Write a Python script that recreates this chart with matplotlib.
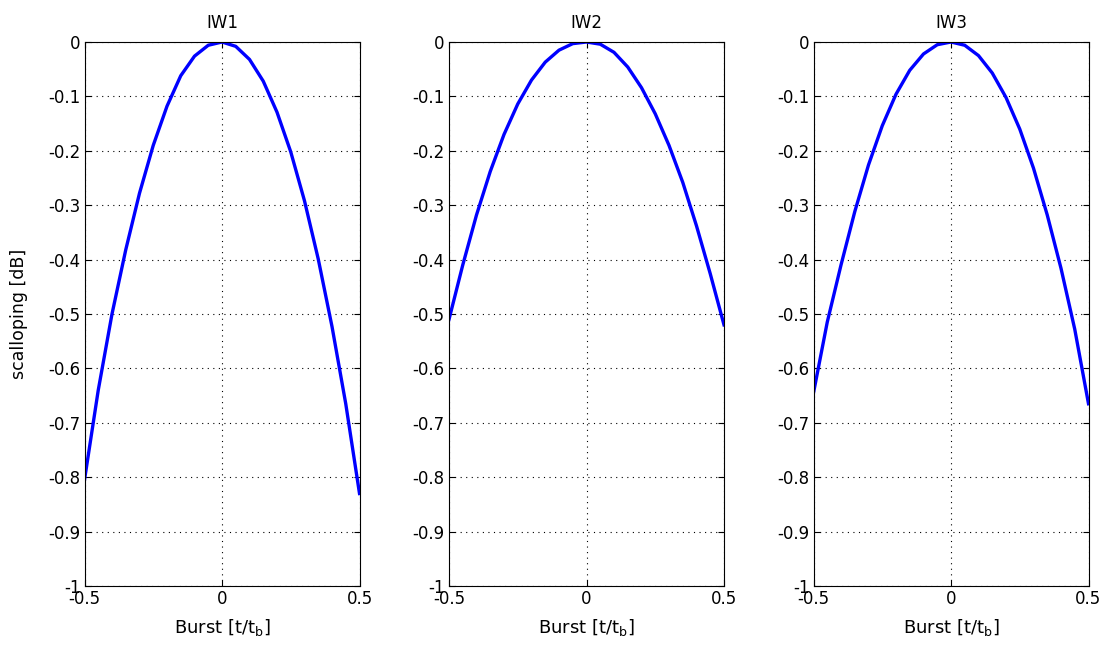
import numpy as np
import matplotlib
matplotlib.use("Agg")
import matplotlib.pyplot as plt

plt.rcParams['font.family'] = ['DejaVu Sans']
plt.rcParams['axes.unicode_minus'] = False

# values
burst = [-0.5, -0.45, -0.4, -0.35, -0.3, -0.25, -0.2, -0.15, -0.1, -0.05, 0.0,
         0.05, 0.1, 0.15, 0.2, 0.25, 0.3, 0.35, 0.4, 0.45, 0.5]
iw1 = [-0.805, -0.64, -0.50, -0.382, -0.278, -0.19, -0.118, -0.062, -0.026, -0.006, 0.0,
       -0.008, -0.032, -0.072, -0.129, -0.202, -0.292, -0.399, -0.523, -0.665, -0.83]
iw2 = [-0.51, -0.41, -0.318, -0.238, -0.17, -0.114, -0.07, -0.037, -0.015, -0.003, 0.0,
       -0.004, -0.019, -0.046, -0.084, -0.132, -0.19, -0.258, -0.338, -0.426, -0.52]
iw3 = [-0.645, -0.515, -0.41, -0.312, -0.226, -0.154, -0.096, -0.052, -0.022, -0.005, 0.0,
       -0.006, -0.025, -0.057, -0.102, -0.16, -0.232, -0.318, -0.416, -0.528, -0.665]
titles = ["IW1", "IW2", "IW3"]
series = [iw1, iw2, iw3]
yticks = [0, -0.1, -0.2, -0.3, -0.4, -0.5, -0.6, -0.7, -0.8, -0.9, -1]
xticks = [-0.5, 0, 0.5]

fig = plt.figure(figsize=(11.08, 6.48), dpi=100)
lefts = [84.5, 449, 813.5]
W, H = 1108, 648

for i in range(3):
  ax = fig.add_axes([lefts[i]/W, 62/H, 275/W, 544/H])
  ax.plot(burst, series[i], color=(0, 0, 1), linewidth=2.4)
  ax.set_xlim(-0.5, 0.5)
  ax.set_ylim(-1, 0)
  ax.set_xticks(xticks)
  ax.set_yticks(yticks)
  ax.set_xticklabels(["%g" % v for v in xticks])
  ax.set_yticklabels(["%g" % v for v in yticks])
  ax.grid(True, color='black', linestyle=(0, (1, 4)), linewidth=0.8)
  ax.tick_params(direction='in', top=True, right=True, labelsize=12, length=4, pad=3)
  for s in ax.spines.values():
    s.set_linewidth(0.8)
  ax.set_title(titles[i], fontsize=12, pad=10)
  ax.set_xlabel("Burst [t/t$_\\mathregular{b}$]", fontsize=13, labelpad=6)
  if i == 0:
    ax.set_ylabel("scalloping [dB]", fontsize=12.5)
    ax.yaxis.set_label_coords(-0.205, 0.5)

fig.savefig("out.png", dpi=100)
